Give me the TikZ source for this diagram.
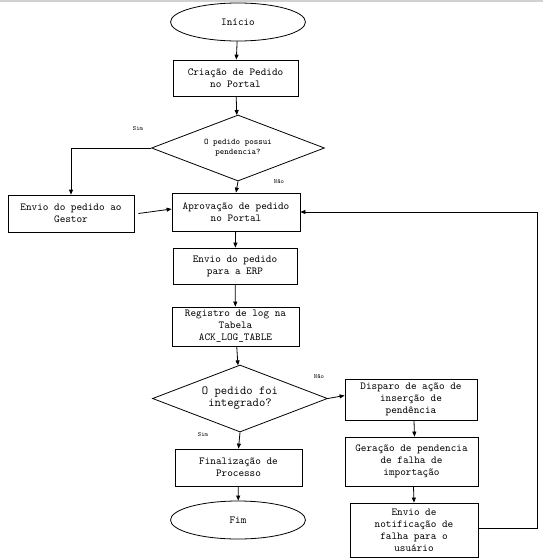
\documentclass[tikz,border=0pt]{standalone}
\usetikzlibrary{shapes.geometric,arrows.meta}
\tikzset{
  boxnode/.style={draw, line width=0.8pt, align=center, inner sep=1pt,
    font=\ttfamily\fontsize{10.7}{12}\selectfont},
  termnode/.style={draw, ellipse, line width=0.8pt, inner sep=0pt,
    minimum width=135pt, minimum height=38pt, font=\ttfamily\fontsize{10.7}{12}\selectfont},
  decnode/.style={draw, diamond, line width=0.8pt, align=center, inner sep=0pt,
    aspect=2.6},
  lbl/.style={font=\ttfamily\fontsize{6.3}{7}\selectfont, inner sep=0pt},
  conn/.style={line width=0.8pt, -{Triangle[length=5pt,width=4pt]}},
  plain/.style={line width=0.8pt}
}
\begin{document}
\begin{tikzpicture}[x=1pt,y=-1pt]
\useasboundingbox (0,0) rectangle (543,560);
\fill[white] (0,0) rectangle (543,560);
\draw[black!18, line width=2pt] (0,1) -- (543,1);

\node[termnode] (start) at (238,22) {Início};
\node[boxnode, minimum width=125pt, minimum height=36pt] (criacao) at (235.5,78) {Criação de Pedido\\no Portal};
\node[decnode, minimum width=173pt, minimum height=66pt, font=\ttfamily\fontsize{8.6}{10}\selectfont] (d1) at (238,148) {O pedido possui\\pendencia?};
\node[boxnode, minimum width=126pt, minimum height=37pt] (gestor) at (71,213.5) {Envio do pedido ao\\Gestor};
\node[boxnode, minimum width=128pt, minimum height=38pt] (aprov) at (236,212) {Aprovação de pedido\\no Portal};
\node[boxnode, minimum width=124pt, minimum height=36pt] (erp) at (235,266) {Envio do pedido\\para a ERP};
\node[boxnode, minimum width=127pt, minimum height=39pt] (reg) at (235.5,326.5) {Registro de log na\\Tabela\\ACK\_LOG\_TABLE};
\node[decnode, minimum width=175pt, minimum height=67pt, font=\ttfamily\fontsize{12.3}{12}\selectfont] (d2) at (240,398.5) {O pedido foi\\integrado?};
\node[boxnode, minimum width=127pt, minimum height=37pt] (final) at (238.5,467.5) {Finalização de\\Processo};
\node[termnode] (fim) at (238,520) {Fim};
\node[boxnode, minimum width=132pt, minimum height=41pt] (disp) at (411,399.5) {Disparo de ação de\\inserção de\\pendência};
\node[boxnode, minimum width=133pt, minimum height=49pt] (ger) at (411.5,461.5) {Geração de pendencia\\de falha de\\importação};
\node[boxnode, minimum width=128pt, minimum height=54pt] (notif) at (414,530) {Envio de\\notificação de\\falha para o\\usuário};

\node[lbl] (sim1) at (138,129) {Sim};
\node[lbl] (nao1) at (279,182) {Não};
\node[lbl] (nao2) at (319,377) {Não};
\node[lbl] (sim2) at (203,435) {Sim};

\coordinate (loop) at (537,528);

\draw[conn] (start) -- (criacao);
\draw[conn] (criacao) -- (d1);
\draw[conn] (d1.west) -| (gestor.north);
\draw[conn] (d1.south) -- (aprov.north);
\draw[conn] ([xshift=4pt]gestor.east) -- ([yshift=3pt]aprov.west);
\draw[conn] (aprov) -- (erp);
\draw[conn] (erp) -- (reg);
\draw[conn] (reg) -- (d2);
\draw[conn] (d2.south) -- (final.north);
\draw[conn] (final) -- (fim);
\draw[conn] (d2.east) -- ([yshift=4pt]disp.west);
\draw[conn] ([xshift=3pt]disp.south) -- ([xshift=3pt]ger.north);
\draw[conn] ([xshift=2pt]ger.south) -- (notif.north);
\draw[conn] ([yshift=2pt]notif.east) -- (loop) |- (aprov.east);
\end{tikzpicture}
\end{document}
